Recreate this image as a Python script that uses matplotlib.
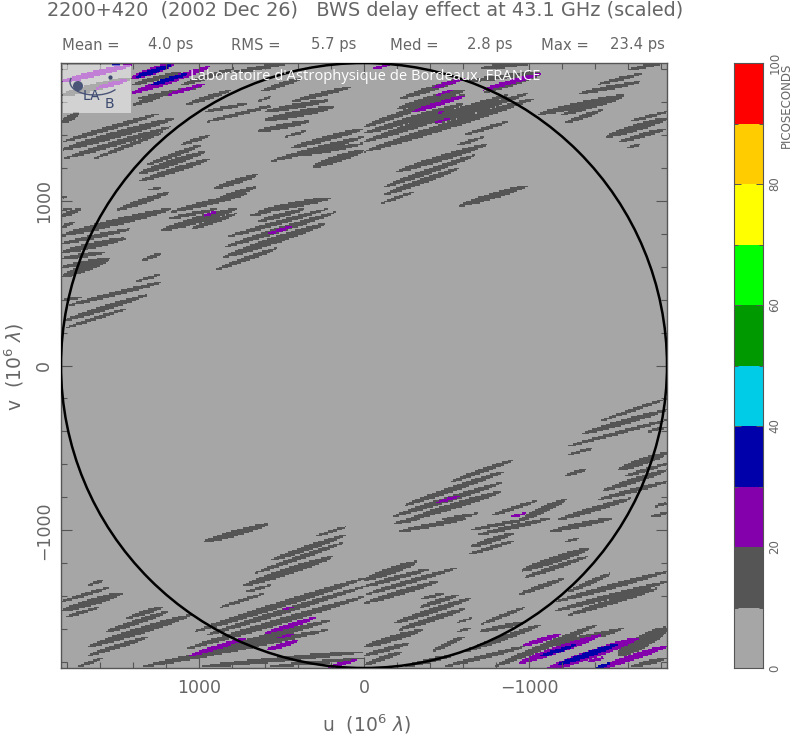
import numpy as np
import matplotlib
matplotlib.use('Agg')
import matplotlib.pyplot as plt
from matplotlib.colors import ListedColormap, BoundaryNorm
from matplotlib.patches import Circle, Rectangle, Arc

# delay levels (ps) and the colour of each 10 ps band
LEVELS = [0, 10, 20, 30, 40, 50, 60, 70, 80, 90, 100]
BAND_COLORS = ['#a6a6a6', '#555555', '#8400ac', '#0000aa', '#00cce8',
               '#009900', '#00ff00', '#ffff00', '#ffcc00', '#ff0000']
UV_MAX = 1836

# streaks: u0, v0, u1, v1, width (all 10^6 lambda)
DARK_UPPER_LEFT = [
    (1836, 1474, 1725, 1533, 20), (1826, 1357, 1240, 1529, 16), (1836, 1307, 1149, 1499, 28),
    (1816, 1256, 1169, 1448, 20), (1634, 1256, 1210, 1418, 12), (1109, 1341, 937, 1394, 12),
    (1321, 1216, 988, 1337, 16), (1361, 1165, 967, 1297, 24), (1361, 1119, 937, 1252, 20),
    (1402, 1579, 1169, 1660, 16), (1078, 1583, 806, 1670, 16), (967, 1539, 705, 1589, 12),
    (957, 1478, 563, 1573, 12), (624, 1664, 382, 1741, 16), (442, 1600, 79, 1690, 16),
    (604, 1539, 210, 1610, 20), (604, 1488, 180, 1569, 28), (644, 1422, 331, 1482, 20),
    (483, 1387, 351, 1422, 8), (644, 1604, 563, 1630, 6), (644, 1563, 559, 1573, 6),
    (452, 1317, 0, 1438, 20), (563, 1240, 0, 1387, 20), (382, 1276, 0, 1347, 16),
    (311, 1206, 0, 1307, 28), (907, 1074, 644, 1159, 20), (877, 1014, 654, 1084, 16),
    (1503, 943, 1180, 1050, 20), (1311, 1064, 1230, 1078, 6), (1169, 933, 705, 1044, 20),
    (644, 933, 200, 1018, 24), (1836, 1018, 1796, 1024, 6), (1836, 943, 1775, 953, 8),
    (1836, 1640, 1412, 1741, 30), (1412, 1701, 1109, 1781, 16), (1371, 1620, 988, 1690, 14),
    (1109, 1701, 786, 1802, 16), (826, 1771, 422, 1842, 14),
]
DARK_UPPER_RIGHT = [
    (0, 1448, -404, 1590, 20), (0, 1408, -606, 1590, 24), (0, 1357, -869, 1640, 28),
    (0, 1297, -1030, 1620, 28), (-222, 1620, -606, 1741, 20), (-202, 1559, -606, 1670, 28),
    (-293, 1539, -606, 1640, 20), (-606, 1721, -1071, 1781, 16), (-727, 1660, -1071, 1771, 24),
    (-424, 1468, -990, 1650, 20), (-707, 1802, -1111, 1852, 20), (-1050, 1523, -1576, 1640, 24),
    (-1192, 1519, -1576, 1630, 16), (-1222, 1474, -1444, 1549, 16), (-1303, 1650, -1677, 1721, 16),
    (-1414, 1705, -1687, 1771, 12), (-1596, 1792, -1836, 1842, 12), (-1465, 1387, -1836, 1499, 28),
    (-1545, 1357, -1836, 1438, 16), (-1616, 1482, -1836, 1539, 10), (-1586, 1317, -1677, 1343, 8),
    (-606, 1398, -879, 1482, 12), (-566, 1337, -727, 1387, 10), (-192, 1175, -743, 1341, 24),
    (-121, 1084, -671, 1276, 20), (-111, 1034, -576, 1196, 20), (-101, 984, -303, 1054, 8),
    (-576, 969, -990, 1091, 24),
]
DARK_MID_LEFT = [
    (1836, 907, 1715, 951, 16), (1836, 840, 1755, 870, 12), (1836, 789, 1169, 951, 28),
    (1836, 739, 1412, 830, 16), (1836, 688, 1442, 773, 24), (1836, 648, 1573, 688, 16),
    (1836, 597, 1537, 652, 16), (1836, 537, 1539, 648, 28), (1230, 820, 775, 951, 28),
    (1048, 830, 775, 921, 16), (1190, 890, 887, 951, 12), (695, 907, 523, 951, 10),
    (644, 874, 361, 951, 16), (836, 779, 220, 951, 16), (846, 719, 170, 931, 20),
    (852, 658, 240, 860, 28), (897, 583, 527, 713, 16), (1345, 638, 1224, 682, 12),
    (1381, 511, 1236, 551, 8), (1796, 365, 1226, 507, 16), (1816, 274, 1315, 430, 20),
    (1806, 230, 1432, 349, 10), (1836, 395, 1711, 416, 8),
]
DARK_MID_RIGHT = [
    (-1434, -337, -1836, -200, 10), (-1313, -418, -1836, -270, 20), (-1226, -493, -1836, -331, 12),
    (-1236, -543, -1384, -503, 8), (-1222, -668, -1343, -630, 12), (-1717, -402, -1836, -372, 10),
    (-1539, -634, -1836, -533, 28), (-1576, -675, -1836, -594, 12), (-1444, -761, -1836, -634, 20),
    (-1414, -816, -1836, -705, 16), (-1757, -856, -1836, -836, 10), (-1737, -917, -1836, -897, 10),
    (-529, -705, -903, -574, 16), (-242, -850, -848, -644, 20), (-172, -917, -838, -711, 20),
    (-263, -937, -832, -765, 24), (-465, -937, -697, -897, 10), (-768, -911, -1050, -820, 12),
    (-949, -937, -1228, -810, 24), (-1172, -937, -1616, -806, 20),
]
DARK_LOWER_LEFT = [
    (977, -1072, 580, -961, 24), (301, -1038, 105, -978, 8), (569, -1184, 109, -1028, 20),
    (664, -1260, 119, -1072, 16), (735, -1337, 190, -1159, 28), (725, -1375, 563, -1331, 8),
    (877, -1468, 610, -1384, 10), (1674, -1331, 1583, -1303, 10), (1836, -1432, 1547, -1347, 12),
    (1836, -1489, 1466, -1382, 28), (1816, -1527, 1608, -1468, 10), (1442, -1533, 1216, -1464, 16),
    (1569, -1618, 1186, -1493, 20), (1670, -1705, 1048, -1513, 28), (1674, -1759, 1301, -1644, 16),
    (1735, -1826, 1583, -1775, 10), (1028, -1614, 0, -1291, 24), (967, -1638, 0, -1341, 20),
    (1078, -1719, 0, -1402, 24), (1068, -1775, 200, -1543, 24), (1341, -1826, 220, -1604, 24),
    (988, -1826, 0, -1735, 20), (584, -1826, 0, -1775, 12),
]
DARK_LOWER_RIGHT = [
    (-182, -957, -343, -927, 12), (-206, -1008, -626, -927, 16), (-646, -998, -1010, -927, 12),
    (-687, -1028, -1131, -927, 16), (-646, -1099, -909, -1018, 20), (-636, -1145, -909, -1064, 12),
    (-1121, -1008, -1505, -927, 20), (-1222, -1068, -1303, -1048, 6), (-949, -1246, -1364, -1109, 28),
    (-970, -1287, -1353, -1159, 16), (-939, -1388, -1212, -1291, 16), (0, -1301, -323, -1190, 28),
    (0, -1341, -394, -1234, 16), (0, -1392, -566, -1226, 16), (0, -1442, -455, -1307, 20),
    (-347, -1416, -485, -1382, 8), (-333, -1468, -570, -1392, 16), (-182, -1563, -646, -1412, 20),
    (-206, -1604, -606, -1476, 20), (-562, -1557, -657, -1533, 6), (-566, -1614, -646, -1590, 6),
    (-707, -1569, -970, -1468, 12), (-697, -1614, -990, -1553, 16), (0, -1705, -354, -1604, 24),
    (0, -1759, -273, -1685, 16), (-414, -1731, -606, -1644, 16), (0, -1816, -232, -1735, 16),
    (-242, -1826, -545, -1755, 16), (-1232, -1375, -1495, -1260, 16), (-1162, -1432, -1836, -1250, 20),
    (-1151, -1489, -1836, -1311, 20), (-1236, -1513, -1778, -1351, 20), (-606, -1735, -1071, -1573, 20),
    (-485, -1826, -970, -1705, 16), (-788, -1826, -1414, -1573, 24), (-990, -1725, -1576, -1594, 16),
    (-1535, -1755, -1836, -1594, 52), (-1091, -1705, -1535, -1614, 16), (-1616, -1826, -1836, -1775, 16),
]
PURPLE_STREAKS = [
    (1412, 1741, 1149, 1832, 28), (1412, 1650, 937, 1812, 24), (1194, 1640, 957, 1711, 12),
    (1836, 1721, 1412, 1822, 24), (1634, 1680, 1432, 1731, 16), (-51, 1802, -152, 1822, 8),
    (-404, 1680, -606, 1741, 12), (-434, 1640, -535, 1670, 6), (-293, 1539, -606, 1634, 16),
    (-424, 1474, -515, 1495, 6), (-448, 1533, -481, 1539, 5), (-717, 1670, -1071, 1771, 16),
    (977, 907, 897, 931, 8), (584, 799, 432, 846, 10), (-440, -832, -586, -790, 8),
    (-889, -917, -980, -897, 6), (1072, -1765, 715, -1654, 16), (600, -1624, 291, -1529, 16),
    (594, -1725, 398, -1668, 16), (527, -1654, 428, -1628, 6), (493, -1482, 428, -1462, 6),
    (220, -1832, 48, -1786, 12), (-960, -1699, -1196, -1628, 16), (-933, -1806, -1438, -1634, 28),
    (-1101, -1846, -1660, -1654, 36), (-1394, -1846, -1836, -1701, 24), (-1357, -1796, -1454, -1771, 10),
]
BLUE_STREAKS = [
    (1381, 1751, 1169, 1822, 16), (1291, 1701, 1068, 1771, 14), (1533, 1826, 1371, 1848, 12),
    (-1061, -1765, -1283, -1695, 12), (-1172, -1816, -1535, -1691, 20), (-1394, -1840, -1495, -1806, 10),
]
BACKGROUND_DELAY = 5
DARK_DELAY = 15
PURPLE_DELAY = 25
BLUE_DELAY = 35

TEXT_COLOR = '#666666'
plt.rcParams['font.family'] = ['DejaVu Sans']


def burn_streaks(grid, uu, vv, streaks, delay):
    for u0, v0, u1, v1, width in streaks:
        du, dv = u1 - u0, v1 - v0
        t = ((uu - u0) * du + (vv - v0) * dv) / (du * du + dv * dv)
        off = np.abs(vv - (v0 + t * dv))
        inside = (t >= 0) & (t <= 1)
        half = np.zeros_like(t)
        half[inside] = 0.5 * (1.2 * width + 8) * (4 * t[inside] * (1 - t[inside])) ** 0.45
        grid[inside & (off <= half)] = delay


edges = np.linspace(-UV_MAX, UV_MAX, 405)
centers = 0.5 * (edges[:-1] + edges[1:])
uu, vv = np.meshgrid(centers, centers)
delay_map = np.full(uu.shape, BACKGROUND_DELAY, dtype=float)
for group in (DARK_UPPER_LEFT, DARK_UPPER_RIGHT, DARK_MID_LEFT, DARK_MID_RIGHT,
              DARK_LOWER_LEFT, DARK_LOWER_RIGHT):
    burn_streaks(delay_map, uu, vv, group, DARK_DELAY)
burn_streaks(delay_map, uu, vv, PURPLE_STREAKS, PURPLE_DELAY)
burn_streaks(delay_map, uu, vv, BLUE_STREAKS, BLUE_DELAY)

cmap = ListedColormap(BAND_COLORS)
norm = BoundaryNorm(LEVELS, cmap.N)

W, H = 792, 735
fig = plt.figure(figsize=(W / 100, H / 100), dpi=100)


def px_axes(x0, y0, x1, y1):
    return fig.add_axes([x0 / W, 1 - y1 / H, (x1 - x0) / W, (y1 - y0) / H])


def px_text(x, y, s, **kw):
    kw.setdefault('color', TEXT_COLOR)
    fig.text(x / W, 1 - y / H, s, **kw)


ax = px_axes(61, 63, 667, 668)
ax.pcolormesh(edges, edges, delay_map, cmap=cmap, norm=norm, shading='flat')
ax.set_xlim(UV_MAX, -UV_MAX)
ax.set_ylim(-UV_MAX, UV_MAX)
ax.add_patch(Circle((0, 0), UV_MAX, fill=False, ec='black', lw=1.8, zorder=3))

ax.set_xticks([1000, 0, -1000])
ax.set_yticks([-1000, 0, 1000])
ax.set_xticks(np.arange(-1800, 1801, 200), minor=True)
ax.set_yticks(np.arange(-1800, 1801, 200), minor=True)
ax.tick_params(axis='x', which='major', direction='in', length=8, width=0.8, color='#555555',
               top=True, labelsize=12.5, labelcolor=TEXT_COLOR, pad=8)
ax.tick_params(axis='y', which='major', direction='in', length=8, width=0.8, color='#555555',
               right=True, labelsize=12.5, labelcolor=TEXT_COLOR, pad=6)
ax.tick_params(which='minor', direction='in', length=4, width=0.8, color='#555555',
               top=True, right=True)
for lab in ax.get_yticklabels():
    lab.set_rotation(90)
    lab.set_va('center')
for side in ax.spines.values():
    side.set_color('#555555')
    side.set_linewidth(1.0)

# logo box with its little LAB mark, in axes pixels
box = ax.inset_axes([2 / 606, 1 - 50 / 605, 68 / 606, 48 / 605])
box.patch.set_alpha(0)
box.set_xlim(0, 68)
box.set_ylim(48, 0)
box.axis('off')
box.add_patch(Rectangle((0, 0), 68, 48, fc='white', alpha=0.5, ec='none'))
box.add_patch(Circle((15, 21), 5, fc='#4a5578', ec='none'))
box.add_patch(Arc((32, 17), 50, 26, theta1=20, theta2=190, ec='#4a5578', lw=1.0))
box.text(28, 31, 'LA', fontsize=10, color='#3c4a70', ha='center', va='center')
box.text(46, 39, 'B', fontsize=10, color='#3c4a70', ha='center', va='center')
box.plot([47], [12], 'o', ms=2, color='#3c4a70')

px_text(365, 77, "Laboratoire d'Astrophysique de Bordeaux, FRANCE", color='white',
        fontsize=10.6, family='Open Sans', ha='center', va='center', zorder=10)

# colour bar
cax = px_axes(734, 63, 763, 668)
cax.pcolormesh([0, 1], LEVELS, np.array(LEVELS[:-1], dtype=float).reshape(-1, 1) + 5,
               cmap=cmap, norm=norm, shading='flat')
cax.set_xticks([])
cax.yaxis.tick_right()
cax.set_yticks(LEVELS[::2])
cax.set_yticks(LEVELS[1::2], minor=True)
cax.tick_params(axis='y', which='major', direction='in', length=5, width=0.7, color='#555555',
                left=True, right=True, labelsize=8.5, labelcolor=TEXT_COLOR, pad=4)
cax.tick_params(axis='y', which='minor', direction='in', length=3, width=0.7, color='#555555',
                left=True, right=True)
for lab in cax.get_yticklabels():
    lab.set_rotation(90)
    lab.set_va('center')
for side in cax.spines.values():
    side.set_color('#555555')
    side.set_linewidth(0.8)
px_text(786, 63, 'PICOSECONDS', fontsize=8.5, rotation=90, ha='center', va='top')

# header and axis titles
px_text(365, 11, '2200+420  (2002 Dec 26)   BWS delay effect at 43.1 GHz (scaled)',
        fontsize=13.9, ha='center', va='center')
for x, s in [(62, 'Mean ='), (148, '4.0 ps'), (231, 'RMS ='), (311, '5.7 ps'),
             (390, 'Med ='), (467, '2.8 ps'), (541, 'Max ='), (610, '23.4 ps')]:
    px_text(x, 45, s, fontsize=10.6, ha='left', va='center')
px_text(366, 724, r'u  (10$^{6}$ $\lambda$)', fontsize=13.5, ha='center', va='center')
px_text(14, 367, r'v  (10$^{6}$ $\lambda$)', fontsize=13.5, rotation=90, ha='center', va='center')

fig.savefig('out.png', dpi=100)
